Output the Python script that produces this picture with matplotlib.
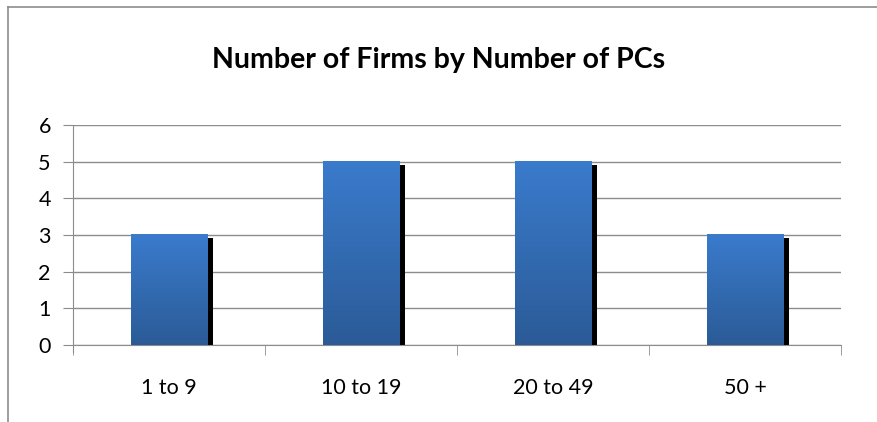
import matplotlib.pyplot as plt
import numpy as np
from matplotlib.patches import Rectangle
from matplotlib.colors import LinearSegmentedColormap

# Chart data
categories = ["1 to 9", "10 to 19", "20 to 49", "50 +"]
firm_counts = [3, 5, 5, 3]
y_ticks = [0, 1, 2, 3, 4, 5, 6]

plt.rcParams["font.family"] = ["Lato", "DejaVu Sans"]

fig = plt.figure(figsize=(8.78, 4.22), dpi=100)
ax = fig.add_axes([73 / 878, 1 - 345 / 422, (841 - 73) / 878, (345 - 125) / 422])

# Outer chart border (left and top edges visible)
fig.add_artist(plt.Line2D([8 / 878, 8 / 878], [0, 1 - 7 / 422], transform=fig.transFigure,
                          color="#8c8c8c", lw=1.2))
fig.add_artist(plt.Line2D([8 / 878, 1], [1 - 7 / 422, 1 - 7 / 422], transform=fig.transFigure,
                          color="#8c8c8c", lw=1.2))

grad = LinearSegmentedColormap.from_list("barg", ["#2b5b97", "#3a7bcc"])
gradient = np.linspace(0, 1, 256).reshape(-1, 1)

x = np.arange(len(categories))
width = 0.4
for xi, val in zip(x, firm_counts):
    left = xi - width / 2
    # shadow on the right side
    ax.add_patch(Rectangle((left + width, 0), 0.028, val - 0.08, facecolor="black",
                           edgecolor="none", zorder=2))
    ax.imshow(gradient, cmap=grad, origin="lower", aspect="auto",
              extent=(left, left + width, 0, val), zorder=3)

ax.set_xlim(-0.5, len(categories) - 0.5)
ax.set_ylim(0, 6)
ax.set_yticks(y_ticks)
ax.set_xticks(x)
ax.set_xticklabels(categories)
ax.set_xticks(np.arange(-0.5, len(categories)), minor=True)

ax.grid(axis="y", color="#8c8c8c", lw=1.0, zorder=0)
ax.set_axisbelow(True)
for side in ["top", "right"]:
    ax.spines[side].set_visible(False)
ax.spines["left"].set_color("#8c8c8c")
ax.spines["bottom"].set_color("#8c8c8c")
ax.spines["left"].set_bounds(-0.2, 6)

ax.tick_params(axis="y", length=7, color="#8c8c8c", labelsize=15.5, pad=9)
ax.tick_params(axis="x", which="major", length=0, labelsize=15.5, pad=24)
ax.tick_params(axis="x", which="minor", length=7, color="#8c8c8c")

fig.text(439 / 878, 1 - 60 / 422, "Number of Firms by Number of PCs", ha="center", va="center",
         fontsize=20.5, fontweight="bold")

fig.savefig("out.png", dpi=100)
